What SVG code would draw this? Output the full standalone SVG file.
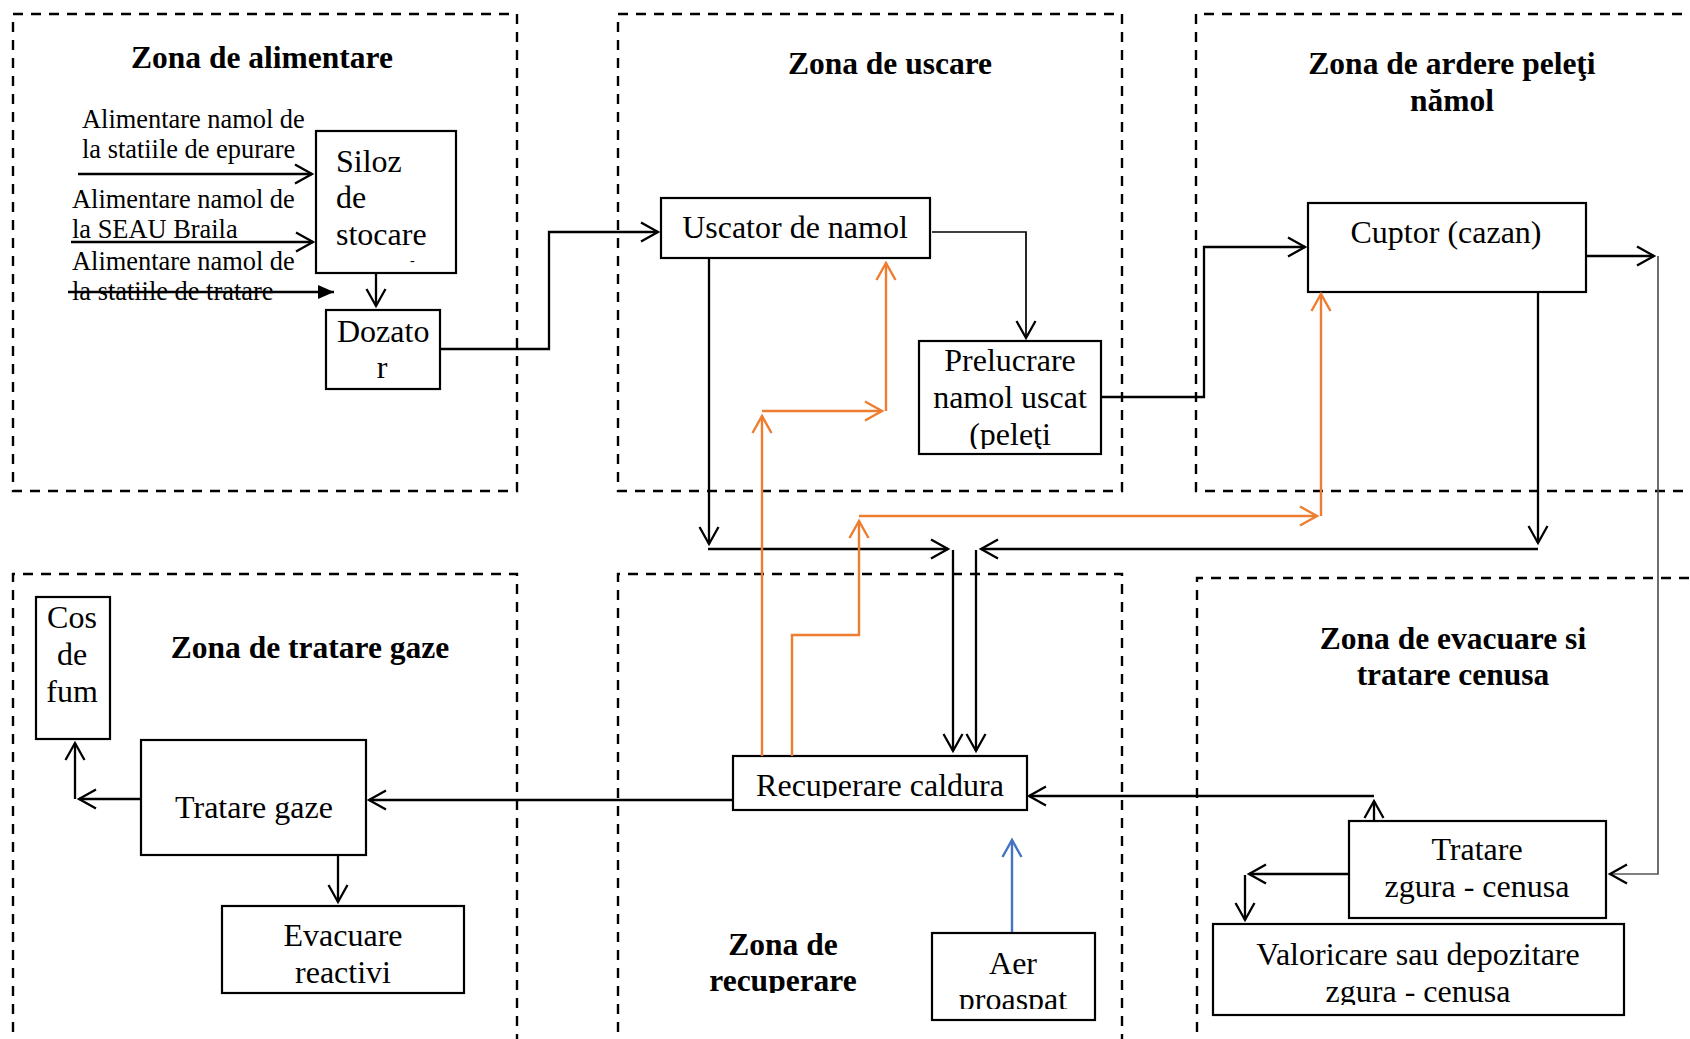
<svg xmlns="http://www.w3.org/2000/svg" width="1690" height="1039" viewBox="0 0 1690 1039">
<defs>
<style>
.zone{fill:none;stroke:#000;stroke-width:2.4;stroke-dasharray:10 8}
.box{fill:#fff;stroke:#000;stroke-width:2.2}
text{font-family:"Liberation Serif","Times New Roman",serif;fill:#000}
.t{font-size:32px}
.m{text-anchor:middle}
.s{font-size:26.4px}
.h{font-size:31.5px;font-weight:bold;text-anchor:middle}
.c{fill:none;stroke:#000;stroke-width:2.3}
.thin{fill:none;stroke:#000;stroke-width:1.7}
.g{fill:none;stroke:#555;stroke-width:1.7}
.o{fill:none;stroke:#ED7D31;stroke-width:2.4}
.b{fill:none;stroke:#4472C4;stroke-width:2.4}
</style>
<marker id="a" markerUnits="userSpaceOnUse" viewBox="-20 -12 22 24" markerWidth="22" markerHeight="24" refX="0" refY="0" orient="auto" overflow="visible"><path d="M-17,-9.5 L0,0 L-17,9.5" fill="none" stroke="#000" stroke-width="2.3"/></marker>
<marker id="ao" markerUnits="userSpaceOnUse" viewBox="-20 -12 22 24" markerWidth="22" markerHeight="24" refX="0" refY="0" orient="auto" overflow="visible"><path d="M-17,-9.5 L0,0 L-17,9.5" fill="none" stroke="#ED7D31" stroke-width="2.4"/></marker>
<marker id="ab" markerUnits="userSpaceOnUse" viewBox="-20 -12 22 24" markerWidth="22" markerHeight="24" refX="0" refY="0" orient="auto" overflow="visible"><path d="M-17,-9.5 L0,0 L-17,9.5" fill="none" stroke="#4472C4" stroke-width="2.4"/></marker>
<marker id="tri" markerUnits="userSpaceOnUse" viewBox="-18 -10 20 20" markerWidth="20" markerHeight="20" refX="0" refY="0" orient="auto" overflow="visible"><path d="M-16,-7 L0,0 L-16,7 Z" fill="#000"/></marker>
<clipPath id="cpPrel"><rect x="919" y="341" width="182" height="108"/></clipPath>
<clipPath id="cpRec"><rect x="733" y="756" width="294" height="42"/></clipPath>
<clipPath id="cpAer"><rect x="932" y="933" width="163" height="76"/></clipPath>
<clipPath id="cpZR"><rect x="618" y="900" width="400" height="93"/></clipPath>
<clipPath id="cpVal"><rect x="1213" y="924" width="411" height="81"/></clipPath>
</defs>
<rect width="1690" height="1039" fill="#fff"/>

<g id="zones">
<rect class="zone" x="13" y="14" width="504" height="477"/>
<rect class="zone" x="618" y="14" width="504" height="477"/>
<path class="zone" d="M1700,14 H1196 V491 H1700"/>
<path class="zone" d="M13,1050 V574 H517 V1050"/>
<path class="zone" d="M618,1050 V574 H1122 V1050"/>
<path class="zone" d="M1197,1050 V578 H1700"/>
<text class="h" x="262" y="68">Zona de alimentare</text>
<text class="h" x="890" y="74">Zona de uscare</text>
<text class="h" x="1452" y="74">Zona de ardere peleţi</text>
<text class="h" x="1452" y="111">nămol</text>
<text class="h" x="310" y="658">Zona de tratare gaze</text>
<g clip-path="url(#cpZR)">
<text class="h" x="783" y="955">Zona de</text>
<text class="h" x="783" y="991">recuperare</text>
</g>
<text class="h" x="1453" y="649">Zona de evacuare si</text>
<text class="h" x="1453" y="685">tratare cenusa</text>
</g>

<g id="inputs">
<text class="s" x="82" y="128">Alimentare namol de</text>
<text class="s" x="82" y="158">la statiile de epurare</text>
<text class="s" x="72" y="208">Alimentare namol de</text>
<text class="s" x="72" y="238">la SEAU Braila</text>
<text class="s" x="72" y="270">Alimentare namol de</text>
<text class="s" x="72" y="300">la statiile de tratare</text>
</g>

<g id="siloz">
<rect class="box" x="316" y="131" width="140" height="142"/>
<text class="t" x="336" y="172">Siloz</text>
<text class="t" x="336" y="208">de</text>
<text class="t" x="336" y="245">stocare</text>
<text x="410" y="265" font-size="14">-</text>
</g>

<g id="dozator">
<rect class="box" x="326" y="310" width="114" height="79"/>
<text class="t" x="337" y="342">Dozato</text>
<text class="t m" x="382" y="378">r</text>
</g>

<g id="uscator">
<rect class="box" x="661" y="198" width="269" height="60"/>
<text class="t m" x="795" y="238">Uscator de namol</text>
</g>

<g id="prelucrare">
<rect class="box" x="919" y="341" width="182" height="113"/>
<g clip-path="url(#cpPrel)">
<text class="t m" x="1010" y="371">Prelucrare</text>
<text class="t m" x="1010" y="408">namol uscat</text>
<text class="t m" x="1010" y="445">(peleţi</text>
</g>
</g>

<g id="cuptor">
<rect class="box" x="1308" y="203" width="278" height="89"/>
<text class="t m" x="1446" y="243">Cuptor (cazan)</text>
</g>

<g id="cos">
<rect class="box" x="36" y="597" width="74" height="142"/>
<text class="t m" x="72" y="628">Cos</text>
<text class="t m" x="72" y="665">de</text>
<text class="t m" x="72" y="702">fum</text>
</g>

<g id="tratare-gaze">
<rect class="box" x="141" y="740" width="225" height="115"/>
<text class="t m" x="254" y="818">Tratare gaze</text>
</g>

<g id="evacuare">
<rect class="box" x="222" y="906" width="242" height="87"/>
<text class="t m" x="343" y="946">Evacuare</text>
<text class="t m" x="343" y="983">reactivi</text>
</g>

<g id="recuperare">
<rect class="box" x="733" y="756" width="294" height="54"/>
<g clip-path="url(#cpRec)">
<text class="t m" x="880" y="796">Recuperare caldura</text>
</g>
</g>

<g id="aer">
<rect class="box" x="932" y="933" width="163" height="87"/>
<g clip-path="url(#cpAer)">
<text class="t m" x="1013" y="974">Aer</text>
<text class="t m" x="1013" y="1010">proaspat</text>
</g>
</g>

<g id="tratare-zgura">
<rect class="box" x="1349" y="821" width="257" height="97"/>
<text class="t m" x="1477" y="860">Tratare</text>
<text class="t m" x="1477" y="897">zgura - cenusa</text>
</g>

<g id="valoricare">
<rect class="box" x="1213" y="924" width="411" height="91"/>
<g clip-path="url(#cpVal)">
<text class="t m" x="1418" y="965">Valoricare sau depozitare</text>
<text class="t m" x="1418" y="1002">zgura - cenusa</text>
</g>
</g>

<g id="connectors">
<path class="c" d="M78,174 H312" marker-end="url(#a)"/>
<path class="c" d="M71,242 H313" marker-end="url(#a)"/>
<path class="c" d="M68,292 H334" marker-end="url(#tri)"/>
<path class="c" d="M376,274 V306" marker-end="url(#a)"/>
<path class="c" d="M440,349 H549 V232 H658" marker-end="url(#a)"/>
<path class="thin" d="M932,232 H1026 V338" marker-end="url(#a)"/>
<path class="c" d="M709,258 V544" marker-end="url(#a)"/>
<path class="c" d="M708,549 H948" marker-end="url(#a)"/>
<path class="c" d="M953,550 V751" marker-end="url(#a)"/>
<path class="c" d="M976,550 V751" marker-end="url(#a)"/>
<path class="c" d="M1538,549 H981" marker-end="url(#a)"/>
<path class="c" d="M1538,292 V543" marker-end="url(#a)"/>
<path class="c" d="M1101,397 H1204 V247 H1305" marker-end="url(#a)"/>
<path class="c" d="M1586,256 H1654" marker-end="url(#a)"/>
<path class="g" d="M1658,256 V874 H1610" marker-end="url(#a)"/>
<path class="c" d="M733,800 H369" marker-end="url(#a)"/>
<path class="c" d="M141,799 H79" marker-end="url(#a)"/>
<path class="c" d="M75,799 V743" marker-end="url(#a)"/>
<path class="c" d="M338,856 V902" marker-end="url(#a)"/>
<path class="c" d="M1374,821 V801" marker-end="url(#a)"/>
<path class="c" d="M1374,796 H1029" marker-end="url(#a)"/>
<path class="c" d="M1349,874 H1249" marker-end="url(#a)"/>
<path class="c" d="M1245,875 V920" marker-end="url(#a)"/>
<path class="o" d="M762,756 V416" marker-end="url(#ao)"/>
<path class="o" d="M762,411 H882" marker-end="url(#ao)"/>
<path class="o" d="M886,411 V263" marker-end="url(#ao)"/>
<path class="o" d="M792,756 V635 H859 V521" marker-end="url(#ao)"/>
<path class="o" d="M859,516 H1317" marker-end="url(#ao)"/>
<path class="o" d="M1321,516 V294" marker-end="url(#ao)"/>
<path class="b" d="M1012,932 V840" marker-end="url(#ab)"/>
</g>
</svg>
